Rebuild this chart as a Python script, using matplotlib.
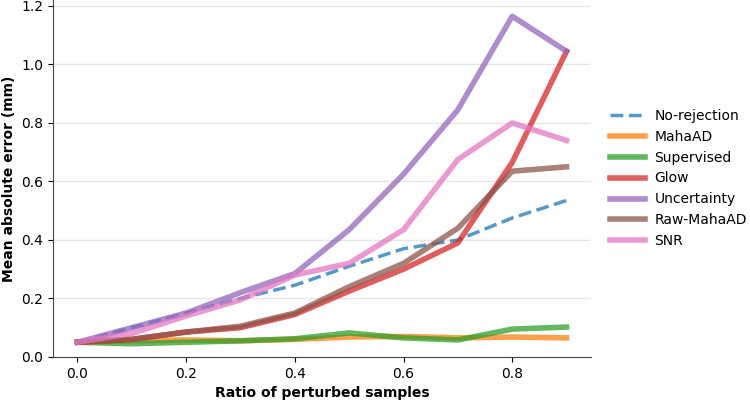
import numpy as np
import matplotlib.pyplot as plt

ratios = [0.0, 0.1, 0.2, 0.3, 0.4, 0.5, 0.6, 0.7, 0.8, 0.9]

no_rejection = [0.05, 0.10, 0.15, 0.20, 0.245, 0.31, 0.37, 0.40, 0.475, 0.535]
maha_ad = [0.05, 0.055, 0.058, 0.055, 0.06, 0.068, 0.07, 0.065, 0.068, 0.065]
supervised = [0.05, 0.045, 0.05, 0.055, 0.062, 0.082, 0.065, 0.058, 0.095, 0.102]
glow = [0.05, 0.06, 0.085, 0.10, 0.145, 0.225, 0.30, 0.39, 0.665, 1.045]
uncertainty = [0.05, 0.10, 0.15, 0.22, 0.285, 0.435, 0.625, 0.845, 1.165, 1.045]
raw_maha_ad = [0.05, 0.06, 0.085, 0.105, 0.15, 0.24, 0.32, 0.44, 0.635, 0.65]
snr = [0.05, 0.08, 0.14, 0.195, 0.28, 0.32, 0.435, 0.675, 0.80, 0.74]

methods = ["MahaAD", "Supervised", "Glow", "Uncertainty", "Raw-MahaAD", "SNR"]
colors = ["tab:orange", "tab:green", "tab:red", "tab:purple", "tab:brown", "tab:pink"]

fig, ax = plt.subplots(figsize=(7.5, 4.01), dpi=100)

ax.plot(ratios, no_rejection, "--", color="tab:blue", lw=2.5, alpha=0.75,
        label="No-rejection")
for name, vals, c in zip(methods, [maha_ad, supervised, glow, uncertainty,
                                   raw_maha_ad, snr], colors):
    ax.plot(ratios, vals, color=c, lw=4, alpha=0.75, label=name)

ax.set_xlim(-0.045, 0.945)
ax.set_ylim(0, 1.2205)
ax.set_yticks(np.arange(0, 1.21, 0.2))
ax.set_xticks([0.0, 0.2, 0.4, 0.6, 0.8])
ax.yaxis.grid(True, color="#e6e6e6", lw=1)
ax.set_axisbelow(True)
for s in ["top", "right"]:
    ax.spines[s].set_visible(False)
ax.spines["left"].set_color("#444444")
ax.spines["bottom"].set_color("#444444")

ax.set_xlabel("Ratio of perturbed samples", fontweight="bold")
ax.set_ylabel("Mean absolute error (mm)", fontweight="bold")
ax.legend(loc="center left", bbox_to_anchor=(1.012, 0.5), frameon=False,
          handlelength=2.5, handletextpad=0.7)

fig.subplots_adjust(left=0.0707, right=0.788, top=1.0, bottom=0.11)
fig.savefig("out.png", dpi=100)
